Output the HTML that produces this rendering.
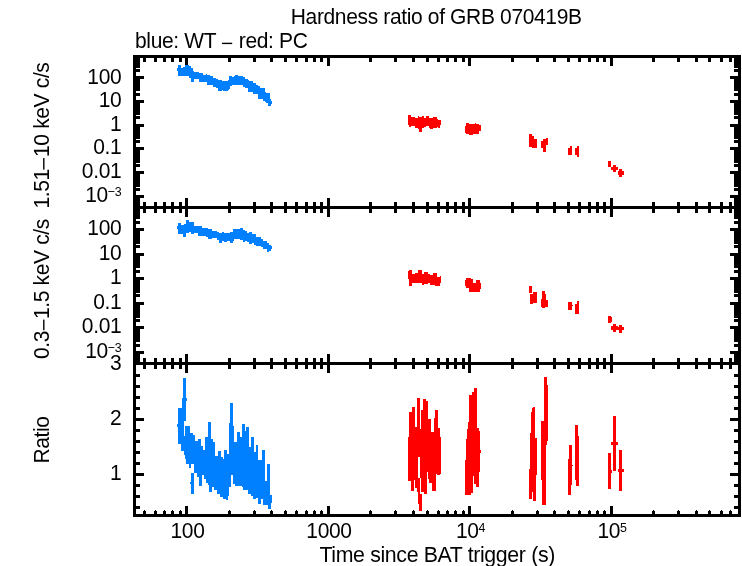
<!DOCTYPE html>
<html><head><meta charset="utf-8"><title>Hardness ratio of GRB 070419B</title>
<style>
html,body{margin:0;padding:0;background:#fff;}
svg{display:block;}
text{font-family:"Liberation Sans",sans-serif;font-size:22px;fill:#000;letter-spacing:-0.37px;}
.t{opacity:0.999;}
</style></head><body>
<svg width="742" height="566" viewBox="0 0 742 566">
<rect x="0" y="0" width="742" height="566" fill="#fff"/>
<g shape-rendering="crispEdges">
<rect x="133" y="55" width="3" height="462" fill="#000"/>
<rect x="738" y="55" width="3" height="462" fill="#000"/>
<rect x="133" y="55" width="608" height="3" fill="#000"/>
<rect x="133" y="514" width="608" height="3" fill="#000"/>
<rect x="133" y="206" width="608" height="3" fill="#000"/>
<rect x="133" y="362" width="608" height="3" fill="#000"/>
<rect x="143" y="58" width="3" height="4" fill="#000"/>
<rect x="143" y="202" width="3" height="11" fill="#000"/>
<rect x="143" y="358" width="3" height="11" fill="#000"/>
<rect x="143" y="511" width="3" height="3" fill="#000"/>
<rect x="144" y="510" width="1" height="1" fill="#000"/>
<rect x="154" y="58" width="3" height="4" fill="#000"/>
<rect x="154" y="202" width="3" height="11" fill="#000"/>
<rect x="154" y="358" width="3" height="11" fill="#000"/>
<rect x="154" y="511" width="3" height="3" fill="#000"/>
<rect x="155" y="510" width="1" height="1" fill="#000"/>
<rect x="163" y="58" width="3" height="4" fill="#000"/>
<rect x="163" y="202" width="3" height="11" fill="#000"/>
<rect x="163" y="358" width="3" height="11" fill="#000"/>
<rect x="163" y="511" width="3" height="3" fill="#000"/>
<rect x="164" y="510" width="1" height="1" fill="#000"/>
<rect x="171" y="58" width="3" height="4" fill="#000"/>
<rect x="171" y="202" width="3" height="11" fill="#000"/>
<rect x="171" y="358" width="3" height="11" fill="#000"/>
<rect x="171" y="511" width="3" height="3" fill="#000"/>
<rect x="172" y="510" width="1" height="1" fill="#000"/>
<rect x="179" y="58" width="3" height="4" fill="#000"/>
<rect x="179" y="202" width="3" height="11" fill="#000"/>
<rect x="179" y="358" width="3" height="11" fill="#000"/>
<rect x="179" y="511" width="3" height="3" fill="#000"/>
<rect x="180" y="510" width="1" height="1" fill="#000"/>
<rect x="185" y="58" width="3" height="8" fill="#000"/>
<rect x="185" y="198" width="3" height="19" fill="#000"/>
<rect x="185" y="354" width="3" height="19" fill="#000"/>
<rect x="185" y="506" width="3" height="8" fill="#000"/>
<rect x="228" y="58" width="3" height="4" fill="#000"/>
<rect x="228" y="202" width="3" height="11" fill="#000"/>
<rect x="228" y="358" width="3" height="11" fill="#000"/>
<rect x="228" y="511" width="3" height="3" fill="#000"/>
<rect x="229" y="510" width="1" height="1" fill="#000"/>
<rect x="253" y="58" width="3" height="4" fill="#000"/>
<rect x="253" y="202" width="3" height="11" fill="#000"/>
<rect x="253" y="358" width="3" height="11" fill="#000"/>
<rect x="253" y="511" width="3" height="3" fill="#000"/>
<rect x="254" y="510" width="1" height="1" fill="#000"/>
<rect x="270" y="58" width="3" height="4" fill="#000"/>
<rect x="270" y="202" width="3" height="11" fill="#000"/>
<rect x="270" y="358" width="3" height="11" fill="#000"/>
<rect x="270" y="511" width="3" height="3" fill="#000"/>
<rect x="271" y="510" width="1" height="1" fill="#000"/>
<rect x="284" y="58" width="3" height="4" fill="#000"/>
<rect x="284" y="202" width="3" height="11" fill="#000"/>
<rect x="284" y="358" width="3" height="11" fill="#000"/>
<rect x="284" y="511" width="3" height="3" fill="#000"/>
<rect x="285" y="510" width="1" height="1" fill="#000"/>
<rect x="295" y="58" width="3" height="4" fill="#000"/>
<rect x="295" y="202" width="3" height="11" fill="#000"/>
<rect x="295" y="358" width="3" height="11" fill="#000"/>
<rect x="295" y="511" width="3" height="3" fill="#000"/>
<rect x="296" y="510" width="1" height="1" fill="#000"/>
<rect x="305" y="58" width="3" height="4" fill="#000"/>
<rect x="305" y="202" width="3" height="11" fill="#000"/>
<rect x="305" y="358" width="3" height="11" fill="#000"/>
<rect x="305" y="511" width="3" height="3" fill="#000"/>
<rect x="306" y="510" width="1" height="1" fill="#000"/>
<rect x="313" y="58" width="3" height="4" fill="#000"/>
<rect x="313" y="202" width="3" height="11" fill="#000"/>
<rect x="313" y="358" width="3" height="11" fill="#000"/>
<rect x="313" y="511" width="3" height="3" fill="#000"/>
<rect x="314" y="510" width="1" height="1" fill="#000"/>
<rect x="320" y="58" width="3" height="4" fill="#000"/>
<rect x="320" y="202" width="3" height="11" fill="#000"/>
<rect x="320" y="358" width="3" height="11" fill="#000"/>
<rect x="320" y="511" width="3" height="3" fill="#000"/>
<rect x="321" y="510" width="1" height="1" fill="#000"/>
<rect x="327" y="58" width="3" height="8" fill="#000"/>
<rect x="327" y="198" width="3" height="19" fill="#000"/>
<rect x="327" y="354" width="3" height="19" fill="#000"/>
<rect x="327" y="506" width="3" height="8" fill="#000"/>
<rect x="369" y="58" width="3" height="4" fill="#000"/>
<rect x="369" y="202" width="3" height="11" fill="#000"/>
<rect x="369" y="358" width="3" height="11" fill="#000"/>
<rect x="369" y="511" width="3" height="3" fill="#000"/>
<rect x="370" y="510" width="1" height="1" fill="#000"/>
<rect x="394" y="58" width="3" height="4" fill="#000"/>
<rect x="394" y="202" width="3" height="11" fill="#000"/>
<rect x="394" y="358" width="3" height="11" fill="#000"/>
<rect x="394" y="511" width="3" height="3" fill="#000"/>
<rect x="395" y="510" width="1" height="1" fill="#000"/>
<rect x="412" y="58" width="3" height="4" fill="#000"/>
<rect x="412" y="202" width="3" height="11" fill="#000"/>
<rect x="412" y="358" width="3" height="11" fill="#000"/>
<rect x="412" y="511" width="3" height="3" fill="#000"/>
<rect x="413" y="510" width="1" height="1" fill="#000"/>
<rect x="426" y="58" width="3" height="4" fill="#000"/>
<rect x="426" y="202" width="3" height="11" fill="#000"/>
<rect x="426" y="358" width="3" height="11" fill="#000"/>
<rect x="426" y="511" width="3" height="3" fill="#000"/>
<rect x="427" y="510" width="1" height="1" fill="#000"/>
<rect x="437" y="58" width="3" height="4" fill="#000"/>
<rect x="437" y="202" width="3" height="11" fill="#000"/>
<rect x="437" y="358" width="3" height="11" fill="#000"/>
<rect x="437" y="511" width="3" height="3" fill="#000"/>
<rect x="438" y="510" width="1" height="1" fill="#000"/>
<rect x="446" y="58" width="3" height="4" fill="#000"/>
<rect x="446" y="202" width="3" height="11" fill="#000"/>
<rect x="446" y="358" width="3" height="11" fill="#000"/>
<rect x="446" y="511" width="3" height="3" fill="#000"/>
<rect x="447" y="510" width="1" height="1" fill="#000"/>
<rect x="454" y="58" width="3" height="4" fill="#000"/>
<rect x="454" y="202" width="3" height="11" fill="#000"/>
<rect x="454" y="358" width="3" height="11" fill="#000"/>
<rect x="454" y="511" width="3" height="3" fill="#000"/>
<rect x="455" y="510" width="1" height="1" fill="#000"/>
<rect x="462" y="58" width="3" height="4" fill="#000"/>
<rect x="462" y="202" width="3" height="11" fill="#000"/>
<rect x="462" y="358" width="3" height="11" fill="#000"/>
<rect x="462" y="511" width="3" height="3" fill="#000"/>
<rect x="463" y="510" width="1" height="1" fill="#000"/>
<rect x="468" y="58" width="3" height="8" fill="#000"/>
<rect x="468" y="198" width="3" height="19" fill="#000"/>
<rect x="468" y="354" width="3" height="19" fill="#000"/>
<rect x="468" y="506" width="3" height="8" fill="#000"/>
<rect x="511" y="58" width="3" height="4" fill="#000"/>
<rect x="511" y="202" width="3" height="11" fill="#000"/>
<rect x="511" y="358" width="3" height="11" fill="#000"/>
<rect x="511" y="511" width="3" height="3" fill="#000"/>
<rect x="512" y="510" width="1" height="1" fill="#000"/>
<rect x="536" y="58" width="3" height="4" fill="#000"/>
<rect x="536" y="202" width="3" height="11" fill="#000"/>
<rect x="536" y="358" width="3" height="11" fill="#000"/>
<rect x="536" y="511" width="3" height="3" fill="#000"/>
<rect x="537" y="510" width="1" height="1" fill="#000"/>
<rect x="553" y="58" width="3" height="4" fill="#000"/>
<rect x="553" y="202" width="3" height="11" fill="#000"/>
<rect x="553" y="358" width="3" height="11" fill="#000"/>
<rect x="553" y="511" width="3" height="3" fill="#000"/>
<rect x="554" y="510" width="1" height="1" fill="#000"/>
<rect x="567" y="58" width="3" height="4" fill="#000"/>
<rect x="567" y="202" width="3" height="11" fill="#000"/>
<rect x="567" y="358" width="3" height="11" fill="#000"/>
<rect x="567" y="511" width="3" height="3" fill="#000"/>
<rect x="568" y="510" width="1" height="1" fill="#000"/>
<rect x="578" y="58" width="3" height="4" fill="#000"/>
<rect x="578" y="202" width="3" height="11" fill="#000"/>
<rect x="578" y="358" width="3" height="11" fill="#000"/>
<rect x="578" y="511" width="3" height="3" fill="#000"/>
<rect x="579" y="510" width="1" height="1" fill="#000"/>
<rect x="588" y="58" width="3" height="4" fill="#000"/>
<rect x="588" y="202" width="3" height="11" fill="#000"/>
<rect x="588" y="358" width="3" height="11" fill="#000"/>
<rect x="588" y="511" width="3" height="3" fill="#000"/>
<rect x="589" y="510" width="1" height="1" fill="#000"/>
<rect x="596" y="58" width="3" height="4" fill="#000"/>
<rect x="596" y="202" width="3" height="11" fill="#000"/>
<rect x="596" y="358" width="3" height="11" fill="#000"/>
<rect x="596" y="511" width="3" height="3" fill="#000"/>
<rect x="597" y="510" width="1" height="1" fill="#000"/>
<rect x="603" y="58" width="3" height="4" fill="#000"/>
<rect x="603" y="202" width="3" height="11" fill="#000"/>
<rect x="603" y="358" width="3" height="11" fill="#000"/>
<rect x="603" y="511" width="3" height="3" fill="#000"/>
<rect x="604" y="510" width="1" height="1" fill="#000"/>
<rect x="610" y="58" width="3" height="8" fill="#000"/>
<rect x="610" y="198" width="3" height="19" fill="#000"/>
<rect x="610" y="354" width="3" height="19" fill="#000"/>
<rect x="610" y="506" width="3" height="8" fill="#000"/>
<rect x="652" y="58" width="3" height="4" fill="#000"/>
<rect x="652" y="202" width="3" height="11" fill="#000"/>
<rect x="652" y="358" width="3" height="11" fill="#000"/>
<rect x="652" y="511" width="3" height="3" fill="#000"/>
<rect x="653" y="510" width="1" height="1" fill="#000"/>
<rect x="677" y="58" width="3" height="4" fill="#000"/>
<rect x="677" y="202" width="3" height="11" fill="#000"/>
<rect x="677" y="358" width="3" height="11" fill="#000"/>
<rect x="677" y="511" width="3" height="3" fill="#000"/>
<rect x="678" y="510" width="1" height="1" fill="#000"/>
<rect x="695" y="58" width="3" height="4" fill="#000"/>
<rect x="695" y="202" width="3" height="11" fill="#000"/>
<rect x="695" y="358" width="3" height="11" fill="#000"/>
<rect x="695" y="511" width="3" height="3" fill="#000"/>
<rect x="696" y="510" width="1" height="1" fill="#000"/>
<rect x="708" y="58" width="3" height="4" fill="#000"/>
<rect x="708" y="202" width="3" height="11" fill="#000"/>
<rect x="708" y="358" width="3" height="11" fill="#000"/>
<rect x="708" y="511" width="3" height="3" fill="#000"/>
<rect x="709" y="510" width="1" height="1" fill="#000"/>
<rect x="720" y="58" width="3" height="4" fill="#000"/>
<rect x="720" y="202" width="3" height="11" fill="#000"/>
<rect x="720" y="358" width="3" height="11" fill="#000"/>
<rect x="720" y="511" width="3" height="3" fill="#000"/>
<rect x="721" y="510" width="1" height="1" fill="#000"/>
<rect x="729" y="58" width="3" height="4" fill="#000"/>
<rect x="729" y="202" width="3" height="11" fill="#000"/>
<rect x="729" y="358" width="3" height="11" fill="#000"/>
<rect x="729" y="511" width="3" height="3" fill="#000"/>
<rect x="730" y="510" width="1" height="1" fill="#000"/>
<rect x="136" y="204" width="4" height="2" fill="#000"/>
<rect x="734" y="204" width="4" height="2" fill="#000"/>
<rect x="136" y="202" width="4" height="3" fill="#000"/>
<rect x="734" y="202" width="4" height="3" fill="#000"/>
<rect x="136" y="200" width="4" height="3" fill="#000"/>
<rect x="734" y="200" width="4" height="3" fill="#000"/>
<rect x="136" y="199" width="4" height="3" fill="#000"/>
<rect x="734" y="199" width="4" height="3" fill="#000"/>
<rect x="136" y="197" width="4" height="3" fill="#000"/>
<rect x="734" y="197" width="4" height="3" fill="#000"/>
<rect x="136" y="196" width="4" height="3" fill="#000"/>
<rect x="734" y="196" width="4" height="3" fill="#000"/>
<rect x="136" y="195" width="8" height="3" fill="#000"/>
<rect x="730" y="195" width="8" height="3" fill="#000"/>
<rect x="136" y="188" width="4" height="3" fill="#000"/>
<rect x="734" y="188" width="4" height="3" fill="#000"/>
<rect x="136" y="184" width="4" height="3" fill="#000"/>
<rect x="734" y="184" width="4" height="3" fill="#000"/>
<rect x="136" y="181" width="4" height="3" fill="#000"/>
<rect x="734" y="181" width="4" height="3" fill="#000"/>
<rect x="136" y="178" width="4" height="3" fill="#000"/>
<rect x="734" y="178" width="4" height="3" fill="#000"/>
<rect x="136" y="176" width="4" height="3" fill="#000"/>
<rect x="734" y="176" width="4" height="3" fill="#000"/>
<rect x="136" y="175" width="4" height="3" fill="#000"/>
<rect x="734" y="175" width="4" height="3" fill="#000"/>
<rect x="136" y="174" width="4" height="3" fill="#000"/>
<rect x="734" y="174" width="4" height="3" fill="#000"/>
<rect x="136" y="172" width="4" height="3" fill="#000"/>
<rect x="734" y="172" width="4" height="3" fill="#000"/>
<rect x="136" y="171" width="8" height="3" fill="#000"/>
<rect x="730" y="171" width="8" height="3" fill="#000"/>
<rect x="136" y="164" width="4" height="3" fill="#000"/>
<rect x="734" y="164" width="4" height="3" fill="#000"/>
<rect x="136" y="160" width="4" height="3" fill="#000"/>
<rect x="734" y="160" width="4" height="3" fill="#000"/>
<rect x="136" y="157" width="4" height="3" fill="#000"/>
<rect x="734" y="157" width="4" height="3" fill="#000"/>
<rect x="136" y="155" width="4" height="3" fill="#000"/>
<rect x="734" y="155" width="4" height="3" fill="#000"/>
<rect x="136" y="153" width="4" height="3" fill="#000"/>
<rect x="734" y="153" width="4" height="3" fill="#000"/>
<rect x="136" y="151" width="4" height="3" fill="#000"/>
<rect x="734" y="151" width="4" height="3" fill="#000"/>
<rect x="136" y="150" width="4" height="3" fill="#000"/>
<rect x="734" y="150" width="4" height="3" fill="#000"/>
<rect x="136" y="148" width="4" height="3" fill="#000"/>
<rect x="734" y="148" width="4" height="3" fill="#000"/>
<rect x="136" y="147" width="8" height="3" fill="#000"/>
<rect x="730" y="147" width="8" height="3" fill="#000"/>
<rect x="136" y="140" width="4" height="3" fill="#000"/>
<rect x="734" y="140" width="4" height="3" fill="#000"/>
<rect x="136" y="136" width="4" height="3" fill="#000"/>
<rect x="734" y="136" width="4" height="3" fill="#000"/>
<rect x="136" y="133" width="4" height="3" fill="#000"/>
<rect x="734" y="133" width="4" height="3" fill="#000"/>
<rect x="136" y="131" width="4" height="3" fill="#000"/>
<rect x="734" y="131" width="4" height="3" fill="#000"/>
<rect x="136" y="129" width="4" height="3" fill="#000"/>
<rect x="734" y="129" width="4" height="3" fill="#000"/>
<rect x="136" y="127" width="4" height="3" fill="#000"/>
<rect x="734" y="127" width="4" height="3" fill="#000"/>
<rect x="136" y="126" width="4" height="3" fill="#000"/>
<rect x="734" y="126" width="4" height="3" fill="#000"/>
<rect x="136" y="125" width="4" height="3" fill="#000"/>
<rect x="734" y="125" width="4" height="3" fill="#000"/>
<rect x="136" y="124" width="8" height="3" fill="#000"/>
<rect x="730" y="124" width="8" height="3" fill="#000"/>
<rect x="136" y="116" width="4" height="3" fill="#000"/>
<rect x="734" y="116" width="4" height="3" fill="#000"/>
<rect x="136" y="112" width="4" height="3" fill="#000"/>
<rect x="734" y="112" width="4" height="3" fill="#000"/>
<rect x="136" y="109" width="4" height="3" fill="#000"/>
<rect x="734" y="109" width="4" height="3" fill="#000"/>
<rect x="136" y="107" width="4" height="3" fill="#000"/>
<rect x="734" y="107" width="4" height="3" fill="#000"/>
<rect x="136" y="105" width="4" height="3" fill="#000"/>
<rect x="734" y="105" width="4" height="3" fill="#000"/>
<rect x="136" y="103" width="4" height="3" fill="#000"/>
<rect x="734" y="103" width="4" height="3" fill="#000"/>
<rect x="136" y="102" width="4" height="3" fill="#000"/>
<rect x="734" y="102" width="4" height="3" fill="#000"/>
<rect x="136" y="101" width="4" height="3" fill="#000"/>
<rect x="734" y="101" width="4" height="3" fill="#000"/>
<rect x="136" y="100" width="8" height="3" fill="#000"/>
<rect x="730" y="100" width="8" height="3" fill="#000"/>
<rect x="136" y="93" width="4" height="3" fill="#000"/>
<rect x="734" y="93" width="4" height="3" fill="#000"/>
<rect x="136" y="88" width="4" height="3" fill="#000"/>
<rect x="734" y="88" width="4" height="3" fill="#000"/>
<rect x="136" y="85" width="4" height="3" fill="#000"/>
<rect x="734" y="85" width="4" height="3" fill="#000"/>
<rect x="136" y="83" width="4" height="3" fill="#000"/>
<rect x="734" y="83" width="4" height="3" fill="#000"/>
<rect x="136" y="81" width="4" height="3" fill="#000"/>
<rect x="734" y="81" width="4" height="3" fill="#000"/>
<rect x="136" y="80" width="4" height="3" fill="#000"/>
<rect x="734" y="80" width="4" height="3" fill="#000"/>
<rect x="136" y="78" width="4" height="3" fill="#000"/>
<rect x="734" y="78" width="4" height="3" fill="#000"/>
<rect x="136" y="77" width="4" height="3" fill="#000"/>
<rect x="734" y="77" width="4" height="3" fill="#000"/>
<rect x="136" y="76" width="8" height="3" fill="#000"/>
<rect x="730" y="76" width="8" height="3" fill="#000"/>
<rect x="136" y="69" width="4" height="3" fill="#000"/>
<rect x="734" y="69" width="4" height="3" fill="#000"/>
<rect x="136" y="65" width="4" height="3" fill="#000"/>
<rect x="734" y="65" width="4" height="3" fill="#000"/>
<rect x="136" y="62" width="4" height="3" fill="#000"/>
<rect x="734" y="62" width="4" height="3" fill="#000"/>
<rect x="136" y="59" width="4" height="3" fill="#000"/>
<rect x="734" y="59" width="4" height="3" fill="#000"/>
<rect x="136" y="58" width="4" height="2" fill="#000"/>
<rect x="734" y="58" width="4" height="2" fill="#000"/>
<rect x="136" y="58" width="4" height="1" fill="#000"/>
<rect x="734" y="58" width="4" height="1" fill="#000"/>
<rect x="136" y="361" width="4" height="1" fill="#000"/>
<rect x="734" y="361" width="4" height="1" fill="#000"/>
<rect x="136" y="358" width="4" height="3" fill="#000"/>
<rect x="734" y="358" width="4" height="3" fill="#000"/>
<rect x="136" y="356" width="4" height="3" fill="#000"/>
<rect x="734" y="356" width="4" height="3" fill="#000"/>
<rect x="136" y="355" width="4" height="3" fill="#000"/>
<rect x="734" y="355" width="4" height="3" fill="#000"/>
<rect x="136" y="353" width="4" height="3" fill="#000"/>
<rect x="734" y="353" width="4" height="3" fill="#000"/>
<rect x="136" y="352" width="4" height="3" fill="#000"/>
<rect x="734" y="352" width="4" height="3" fill="#000"/>
<rect x="136" y="351" width="8" height="3" fill="#000"/>
<rect x="730" y="351" width="8" height="3" fill="#000"/>
<rect x="136" y="344" width="4" height="3" fill="#000"/>
<rect x="734" y="344" width="4" height="3" fill="#000"/>
<rect x="136" y="339" width="4" height="3" fill="#000"/>
<rect x="734" y="339" width="4" height="3" fill="#000"/>
<rect x="136" y="336" width="4" height="3" fill="#000"/>
<rect x="734" y="336" width="4" height="3" fill="#000"/>
<rect x="136" y="334" width="4" height="3" fill="#000"/>
<rect x="734" y="334" width="4" height="3" fill="#000"/>
<rect x="136" y="332" width="4" height="3" fill="#000"/>
<rect x="734" y="332" width="4" height="3" fill="#000"/>
<rect x="136" y="330" width="4" height="3" fill="#000"/>
<rect x="734" y="330" width="4" height="3" fill="#000"/>
<rect x="136" y="329" width="4" height="3" fill="#000"/>
<rect x="734" y="329" width="4" height="3" fill="#000"/>
<rect x="136" y="328" width="4" height="3" fill="#000"/>
<rect x="734" y="328" width="4" height="3" fill="#000"/>
<rect x="136" y="326" width="8" height="3" fill="#000"/>
<rect x="730" y="326" width="8" height="3" fill="#000"/>
<rect x="136" y="319" width="4" height="3" fill="#000"/>
<rect x="734" y="319" width="4" height="3" fill="#000"/>
<rect x="136" y="315" width="4" height="3" fill="#000"/>
<rect x="734" y="315" width="4" height="3" fill="#000"/>
<rect x="136" y="312" width="4" height="3" fill="#000"/>
<rect x="734" y="312" width="4" height="3" fill="#000"/>
<rect x="136" y="309" width="4" height="3" fill="#000"/>
<rect x="734" y="309" width="4" height="3" fill="#000"/>
<rect x="136" y="307" width="4" height="3" fill="#000"/>
<rect x="734" y="307" width="4" height="3" fill="#000"/>
<rect x="136" y="306" width="4" height="3" fill="#000"/>
<rect x="734" y="306" width="4" height="3" fill="#000"/>
<rect x="136" y="304" width="4" height="3" fill="#000"/>
<rect x="734" y="304" width="4" height="3" fill="#000"/>
<rect x="136" y="303" width="4" height="3" fill="#000"/>
<rect x="734" y="303" width="4" height="3" fill="#000"/>
<rect x="136" y="302" width="8" height="3" fill="#000"/>
<rect x="730" y="302" width="8" height="3" fill="#000"/>
<rect x="136" y="294" width="4" height="3" fill="#000"/>
<rect x="734" y="294" width="4" height="3" fill="#000"/>
<rect x="136" y="290" width="4" height="3" fill="#000"/>
<rect x="734" y="290" width="4" height="3" fill="#000"/>
<rect x="136" y="287" width="4" height="3" fill="#000"/>
<rect x="734" y="287" width="4" height="3" fill="#000"/>
<rect x="136" y="285" width="4" height="3" fill="#000"/>
<rect x="734" y="285" width="4" height="3" fill="#000"/>
<rect x="136" y="283" width="4" height="3" fill="#000"/>
<rect x="734" y="283" width="4" height="3" fill="#000"/>
<rect x="136" y="281" width="4" height="3" fill="#000"/>
<rect x="734" y="281" width="4" height="3" fill="#000"/>
<rect x="136" y="280" width="4" height="3" fill="#000"/>
<rect x="734" y="280" width="4" height="3" fill="#000"/>
<rect x="136" y="278" width="4" height="3" fill="#000"/>
<rect x="734" y="278" width="4" height="3" fill="#000"/>
<rect x="136" y="277" width="8" height="3" fill="#000"/>
<rect x="730" y="277" width="8" height="3" fill="#000"/>
<rect x="136" y="270" width="4" height="3" fill="#000"/>
<rect x="734" y="270" width="4" height="3" fill="#000"/>
<rect x="136" y="265" width="4" height="3" fill="#000"/>
<rect x="734" y="265" width="4" height="3" fill="#000"/>
<rect x="136" y="262" width="4" height="3" fill="#000"/>
<rect x="734" y="262" width="4" height="3" fill="#000"/>
<rect x="136" y="260" width="4" height="3" fill="#000"/>
<rect x="734" y="260" width="4" height="3" fill="#000"/>
<rect x="136" y="258" width="4" height="3" fill="#000"/>
<rect x="734" y="258" width="4" height="3" fill="#000"/>
<rect x="136" y="256" width="4" height="3" fill="#000"/>
<rect x="734" y="256" width="4" height="3" fill="#000"/>
<rect x="136" y="255" width="4" height="3" fill="#000"/>
<rect x="734" y="255" width="4" height="3" fill="#000"/>
<rect x="136" y="254" width="4" height="3" fill="#000"/>
<rect x="734" y="254" width="4" height="3" fill="#000"/>
<rect x="136" y="253" width="8" height="3" fill="#000"/>
<rect x="730" y="253" width="8" height="3" fill="#000"/>
<rect x="136" y="245" width="4" height="3" fill="#000"/>
<rect x="734" y="245" width="4" height="3" fill="#000"/>
<rect x="136" y="241" width="4" height="3" fill="#000"/>
<rect x="734" y="241" width="4" height="3" fill="#000"/>
<rect x="136" y="238" width="4" height="3" fill="#000"/>
<rect x="734" y="238" width="4" height="3" fill="#000"/>
<rect x="136" y="235" width="4" height="3" fill="#000"/>
<rect x="734" y="235" width="4" height="3" fill="#000"/>
<rect x="136" y="233" width="4" height="3" fill="#000"/>
<rect x="734" y="233" width="4" height="3" fill="#000"/>
<rect x="136" y="232" width="4" height="3" fill="#000"/>
<rect x="734" y="232" width="4" height="3" fill="#000"/>
<rect x="136" y="230" width="4" height="3" fill="#000"/>
<rect x="734" y="230" width="4" height="3" fill="#000"/>
<rect x="136" y="229" width="4" height="3" fill="#000"/>
<rect x="734" y="229" width="4" height="3" fill="#000"/>
<rect x="136" y="228" width="8" height="3" fill="#000"/>
<rect x="730" y="228" width="8" height="3" fill="#000"/>
<rect x="136" y="221" width="4" height="3" fill="#000"/>
<rect x="734" y="221" width="4" height="3" fill="#000"/>
<rect x="136" y="216" width="4" height="3" fill="#000"/>
<rect x="734" y="216" width="4" height="3" fill="#000"/>
<rect x="136" y="213" width="4" height="3" fill="#000"/>
<rect x="734" y="213" width="4" height="3" fill="#000"/>
<rect x="136" y="211" width="4" height="3" fill="#000"/>
<rect x="734" y="211" width="4" height="3" fill="#000"/>
<rect x="136" y="209" width="4" height="3" fill="#000"/>
<rect x="734" y="209" width="4" height="3" fill="#000"/>
<rect x="136" y="209" width="4" height="1" fill="#000"/>
<rect x="734" y="209" width="4" height="1" fill="#000"/>
<rect x="136" y="506" width="4" height="3" fill="#000"/>
<rect x="734" y="506" width="4" height="3" fill="#000"/>
<rect x="136" y="495" width="4" height="3" fill="#000"/>
<rect x="734" y="495" width="4" height="3" fill="#000"/>
<rect x="136" y="484" width="4" height="3" fill="#000"/>
<rect x="734" y="484" width="4" height="3" fill="#000"/>
<rect x="136" y="473" width="8" height="3" fill="#000"/>
<rect x="730" y="473" width="8" height="3" fill="#000"/>
<rect x="136" y="462" width="4" height="3" fill="#000"/>
<rect x="734" y="462" width="4" height="3" fill="#000"/>
<rect x="136" y="451" width="4" height="3" fill="#000"/>
<rect x="734" y="451" width="4" height="3" fill="#000"/>
<rect x="136" y="440" width="4" height="3" fill="#000"/>
<rect x="734" y="440" width="4" height="3" fill="#000"/>
<rect x="136" y="429" width="4" height="3" fill="#000"/>
<rect x="734" y="429" width="4" height="3" fill="#000"/>
<rect x="136" y="418" width="8" height="3" fill="#000"/>
<rect x="730" y="418" width="8" height="3" fill="#000"/>
<rect x="136" y="407" width="4" height="3" fill="#000"/>
<rect x="734" y="407" width="4" height="3" fill="#000"/>
<rect x="136" y="396" width="4" height="3" fill="#000"/>
<rect x="734" y="396" width="4" height="3" fill="#000"/>
<rect x="136" y="385" width="4" height="3" fill="#000"/>
<rect x="734" y="385" width="4" height="3" fill="#000"/>
<rect x="136" y="374" width="4" height="3" fill="#000"/>
<rect x="734" y="374" width="4" height="3" fill="#000"/>
<rect x="177" y="68" width="1" height="3" fill="#0080ff"/>
<rect x="178" y="65" width="3" height="11" fill="#0080ff"/>
<rect x="181" y="68" width="2" height="8" fill="#0080ff"/>
<rect x="183" y="67" width="2" height="9" fill="#0080ff"/>
<rect x="185" y="65" width="4" height="11" fill="#0080ff"/>
<rect x="189" y="66" width="2" height="12" fill="#0080ff"/>
<rect x="191" y="68" width="2" height="14" fill="#0080ff"/>
<rect x="193" y="71" width="1" height="11" fill="#0080ff"/>
<rect x="194" y="72" width="5" height="7" fill="#0080ff"/>
<rect x="199" y="73" width="4" height="9" fill="#0080ff"/>
<rect x="203" y="75" width="3" height="7" fill="#0080ff"/>
<rect x="206" y="74" width="1" height="8" fill="#0080ff"/>
<rect x="207" y="75" width="3" height="10" fill="#0080ff"/>
<rect x="210" y="76" width="3" height="9" fill="#0080ff"/>
<rect x="213" y="78" width="3" height="9" fill="#0080ff"/>
<rect x="216" y="79" width="2" height="9" fill="#0080ff"/>
<rect x="218" y="80" width="4" height="11" fill="#0080ff"/>
<rect x="222" y="81" width="1" height="9" fill="#0080ff"/>
<rect x="223" y="81" width="5" height="10" fill="#0080ff"/>
<rect x="228" y="80" width="1" height="10" fill="#0080ff"/>
<rect x="229" y="76" width="1" height="13" fill="#0080ff"/>
<rect x="230" y="76" width="2" height="10" fill="#0080ff"/>
<rect x="232" y="77" width="2" height="8" fill="#0080ff"/>
<rect x="234" y="76" width="1" height="9" fill="#0080ff"/>
<rect x="235" y="75" width="3" height="10" fill="#0080ff"/>
<rect x="238" y="76" width="5" height="9" fill="#0080ff"/>
<rect x="243" y="77" width="2" height="10" fill="#0080ff"/>
<rect x="245" y="79" width="3" height="9" fill="#0080ff"/>
<rect x="248" y="80" width="1" height="12" fill="#0080ff"/>
<rect x="249" y="81" width="4" height="11" fill="#0080ff"/>
<rect x="253" y="83" width="3" height="11" fill="#0080ff"/>
<rect x="256" y="85" width="2" height="9" fill="#0080ff"/>
<rect x="258" y="86" width="2" height="13" fill="#0080ff"/>
<rect x="260" y="88" width="3" height="11" fill="#0080ff"/>
<rect x="263" y="88" width="2" height="13" fill="#0080ff"/>
<rect x="265" y="92" width="1" height="10" fill="#0080ff"/>
<rect x="266" y="93" width="2" height="10" fill="#0080ff"/>
<rect x="268" y="93" width="2" height="13" fill="#0080ff"/>
<rect x="270" y="99" width="1" height="7" fill="#0080ff"/>
<rect x="271" y="101" width="1" height="3" fill="#0080ff"/>
<rect x="408" y="115" width="1" height="10" fill="#ff0000"/>
<rect x="409" y="115" width="2" height="12" fill="#ff0000"/>
<rect x="411" y="117" width="4" height="9" fill="#ff0000"/>
<rect x="415" y="118" width="3" height="10" fill="#ff0000"/>
<rect x="418" y="116" width="1" height="13" fill="#ff0000"/>
<rect x="419" y="117" width="3" height="15" fill="#ff0000"/>
<rect x="422" y="116" width="2" height="12" fill="#ff0000"/>
<rect x="424" y="118" width="2" height="9" fill="#ff0000"/>
<rect x="426" y="116" width="3" height="10" fill="#ff0000"/>
<rect x="429" y="118" width="1" height="10" fill="#ff0000"/>
<rect x="430" y="118" width="3" height="11" fill="#ff0000"/>
<rect x="433" y="117" width="4" height="11" fill="#ff0000"/>
<rect x="437" y="119" width="1" height="8" fill="#ff0000"/>
<rect x="438" y="120" width="2" height="8" fill="#ff0000"/>
<rect x="440" y="120" width="1" height="5" fill="#ff0000"/>
<rect x="465" y="126" width="1" height="7" fill="#ff0000"/>
<rect x="466" y="123" width="3" height="11" fill="#ff0000"/>
<rect x="469" y="124" width="4" height="11" fill="#ff0000"/>
<rect x="473" y="124" width="2" height="10" fill="#ff0000"/>
<rect x="475" y="123" width="1" height="11" fill="#ff0000"/>
<rect x="476" y="124" width="3" height="10" fill="#ff0000"/>
<rect x="479" y="125" width="2" height="6" fill="#ff0000"/>
<rect x="529" y="134" width="3" height="13" fill="#ff0000"/>
<rect x="532" y="136" width="2" height="12" fill="#ff0000"/>
<rect x="534" y="139" width="3" height="9" fill="#ff0000"/>
<rect x="541" y="141" width="2" height="7" fill="#ff0000"/>
<rect x="543" y="139" width="3" height="13" fill="#ff0000"/>
<rect x="546" y="138" width="2" height="7" fill="#ff0000"/>
<rect x="568" y="148" width="2" height="7" fill="#ff0000"/>
<rect x="570" y="146" width="2" height="9" fill="#ff0000"/>
<rect x="575" y="148" width="2" height="7" fill="#ff0000"/>
<rect x="577" y="146" width="2" height="11" fill="#ff0000"/>
<rect x="608" y="161" width="3" height="6" fill="#ff0000"/>
<rect x="611" y="167" width="7" height="3" fill="#ff0000"/>
<rect x="613" y="165" width="3" height="7" fill="#ff0000"/>
<rect x="618" y="171" width="6" height="4" fill="#ff0000"/>
<rect x="619" y="169" width="3" height="8" fill="#ff0000"/>
<rect x="177" y="226" width="1" height="3" fill="#0080ff"/>
<rect x="178" y="223" width="3" height="11" fill="#0080ff"/>
<rect x="181" y="225" width="2" height="9" fill="#0080ff"/>
<rect x="183" y="225" width="1" height="12" fill="#0080ff"/>
<rect x="184" y="224" width="2" height="13" fill="#0080ff"/>
<rect x="186" y="220" width="3" height="13" fill="#0080ff"/>
<rect x="189" y="222" width="2" height="10" fill="#0080ff"/>
<rect x="191" y="222" width="3" height="12" fill="#0080ff"/>
<rect x="194" y="226" width="4" height="7" fill="#0080ff"/>
<rect x="198" y="226" width="4" height="10" fill="#0080ff"/>
<rect x="202" y="228" width="4" height="8" fill="#0080ff"/>
<rect x="206" y="228" width="2" height="9" fill="#0080ff"/>
<rect x="208" y="229" width="4" height="10" fill="#0080ff"/>
<rect x="212" y="231" width="5" height="7" fill="#0080ff"/>
<rect x="217" y="232" width="2" height="8" fill="#0080ff"/>
<rect x="219" y="233" width="3" height="10" fill="#0080ff"/>
<rect x="222" y="232" width="2" height="9" fill="#0080ff"/>
<rect x="224" y="233" width="3" height="9" fill="#0080ff"/>
<rect x="227" y="233" width="3" height="8" fill="#0080ff"/>
<rect x="230" y="232" width="3" height="11" fill="#0080ff"/>
<rect x="233" y="229" width="1" height="12" fill="#0080ff"/>
<rect x="234" y="229" width="6" height="10" fill="#0080ff"/>
<rect x="240" y="228" width="3" height="12" fill="#0080ff"/>
<rect x="243" y="230" width="2" height="12" fill="#0080ff"/>
<rect x="245" y="231" width="2" height="10" fill="#0080ff"/>
<rect x="247" y="233" width="2" height="9" fill="#0080ff"/>
<rect x="249" y="232" width="3" height="12" fill="#0080ff"/>
<rect x="252" y="234" width="2" height="9" fill="#0080ff"/>
<rect x="254" y="234" width="2" height="11" fill="#0080ff"/>
<rect x="256" y="237" width="2" height="9" fill="#0080ff"/>
<rect x="258" y="237" width="3" height="9" fill="#0080ff"/>
<rect x="261" y="239" width="2" height="8" fill="#0080ff"/>
<rect x="263" y="241" width="4" height="8" fill="#0080ff"/>
<rect x="267" y="243" width="2" height="9" fill="#0080ff"/>
<rect x="269" y="245" width="2" height="6" fill="#0080ff"/>
<rect x="271" y="246" width="1" height="3" fill="#0080ff"/>
<rect x="408" y="271" width="1" height="8" fill="#ff0000"/>
<rect x="409" y="270" width="3" height="16" fill="#ff0000"/>
<rect x="412" y="274" width="3" height="9" fill="#ff0000"/>
<rect x="415" y="273" width="3" height="10" fill="#ff0000"/>
<rect x="418" y="270" width="4" height="13" fill="#ff0000"/>
<rect x="422" y="274" width="2" height="11" fill="#ff0000"/>
<rect x="424" y="272" width="4" height="12" fill="#ff0000"/>
<rect x="428" y="274" width="2" height="9" fill="#ff0000"/>
<rect x="430" y="275" width="3" height="10" fill="#ff0000"/>
<rect x="433" y="273" width="2" height="12" fill="#ff0000"/>
<rect x="435" y="273" width="2" height="13" fill="#ff0000"/>
<rect x="437" y="277" width="3" height="9" fill="#ff0000"/>
<rect x="440" y="276" width="1" height="7" fill="#ff0000"/>
<rect x="465" y="280" width="1" height="6" fill="#ff0000"/>
<rect x="466" y="278" width="3" height="10" fill="#ff0000"/>
<rect x="469" y="278" width="2" height="14" fill="#ff0000"/>
<rect x="471" y="279" width="2" height="13" fill="#ff0000"/>
<rect x="473" y="283" width="3" height="9" fill="#ff0000"/>
<rect x="476" y="280" width="4" height="12" fill="#ff0000"/>
<rect x="480" y="283" width="1" height="6" fill="#ff0000"/>
<rect x="529" y="286" width="3" height="7" fill="#ff0000"/>
<rect x="530" y="294" width="3" height="10" fill="#ff0000"/>
<rect x="533" y="292" width="4" height="11" fill="#ff0000"/>
<rect x="541" y="299" width="1" height="8" fill="#ff0000"/>
<rect x="542" y="291" width="3" height="17" fill="#ff0000"/>
<rect x="545" y="294" width="1" height="13" fill="#ff0000"/>
<rect x="546" y="300" width="2" height="7" fill="#ff0000"/>
<rect x="568" y="302" width="4" height="8" fill="#ff0000"/>
<rect x="572" y="305" width="1" height="1" fill="#ff0000"/>
<rect x="575" y="304" width="2" height="10" fill="#ff0000"/>
<rect x="577" y="301" width="2" height="13" fill="#ff0000"/>
<rect x="608" y="316" width="3" height="7" fill="#ff0000"/>
<rect x="611" y="317" width="1" height="5" fill="#ff0000"/>
<rect x="611" y="326" width="7" height="4" fill="#ff0000"/>
<rect x="613" y="324" width="3" height="8" fill="#ff0000"/>
<rect x="618" y="327" width="6" height="3" fill="#ff0000"/>
<rect x="619" y="325" width="3" height="8" fill="#ff0000"/>
<rect x="177" y="424" width="1" height="3" fill="#0080ff"/>
<rect x="178" y="408" width="3" height="36" fill="#0080ff"/>
<rect x="181" y="408" width="1" height="43" fill="#0080ff"/>
<rect x="182" y="398" width="1" height="53" fill="#0080ff"/>
<rect x="183" y="378" width="1" height="73" fill="#0080ff"/>
<rect x="184" y="378" width="1" height="43" fill="#0080ff"/>
<rect x="184" y="436" width="1" height="19" fill="#0080ff"/>
<rect x="185" y="378" width="1" height="43" fill="#0080ff"/>
<rect x="182" y="398" width="5" height="3" fill="#0080ff"/>
<rect x="185" y="426" width="1" height="33" fill="#0080ff"/>
<rect x="186" y="426" width="3" height="38" fill="#0080ff"/>
<rect x="189" y="426" width="1" height="42" fill="#0080ff"/>
<rect x="190" y="433" width="1" height="35" fill="#0080ff"/>
<rect x="191" y="433" width="2" height="31" fill="#0080ff"/>
<rect x="193" y="435" width="1" height="29" fill="#0080ff"/>
<rect x="190" y="482" width="1" height="2" fill="#0080ff"/>
<rect x="191" y="473" width="3" height="21" fill="#0080ff"/>
<rect x="194" y="435" width="1" height="38" fill="#0080ff"/>
<rect x="195" y="441" width="2" height="32" fill="#0080ff"/>
<rect x="197" y="441" width="1" height="36" fill="#0080ff"/>
<rect x="198" y="439" width="1" height="38" fill="#0080ff"/>
<rect x="199" y="439" width="2" height="47" fill="#0080ff"/>
<rect x="201" y="446" width="1" height="40" fill="#0080ff"/>
<rect x="202" y="446" width="1" height="29" fill="#0080ff"/>
<rect x="203" y="450" width="1" height="25" fill="#0080ff"/>
<rect x="204" y="450" width="1" height="29" fill="#0080ff"/>
<rect x="205" y="437" width="1" height="42" fill="#0080ff"/>
<rect x="206" y="437" width="2" height="46" fill="#0080ff"/>
<rect x="208" y="422" width="1" height="63" fill="#0080ff"/>
<rect x="209" y="422" width="2" height="70" fill="#0080ff"/>
<rect x="211" y="439" width="1" height="53" fill="#0080ff"/>
<rect x="212" y="439" width="1" height="48" fill="#0080ff"/>
<rect x="213" y="442" width="1" height="45" fill="#0080ff"/>
<rect x="214" y="442" width="1" height="48" fill="#0080ff"/>
<rect x="215" y="456" width="2" height="34" fill="#0080ff"/>
<rect x="217" y="456" width="1" height="38" fill="#0080ff"/>
<rect x="218" y="451" width="2" height="43" fill="#0080ff"/>
<rect x="220" y="451" width="1" height="46" fill="#0080ff"/>
<rect x="221" y="457" width="2" height="40" fill="#0080ff"/>
<rect x="223" y="459" width="1" height="40" fill="#0080ff"/>
<rect x="224" y="450" width="2" height="49" fill="#0080ff"/>
<rect x="226" y="450" width="1" height="50" fill="#0080ff"/>
<rect x="227" y="454" width="1" height="46" fill="#0080ff"/>
<rect x="228" y="454" width="1" height="42" fill="#0080ff"/>
<rect x="229" y="423" width="1" height="64" fill="#0080ff"/>
<rect x="230" y="403" width="1" height="84" fill="#0080ff"/>
<rect x="231" y="403" width="2" height="72" fill="#0080ff"/>
<rect x="233" y="426" width="1" height="58" fill="#0080ff"/>
<rect x="234" y="442" width="1" height="42" fill="#0080ff"/>
<rect x="235" y="442" width="2" height="44" fill="#0080ff"/>
<rect x="237" y="432" width="3" height="54" fill="#0080ff"/>
<rect x="240" y="437" width="2" height="49" fill="#0080ff"/>
<rect x="242" y="424" width="1" height="63" fill="#0080ff"/>
<rect x="243" y="424" width="2" height="66" fill="#0080ff"/>
<rect x="245" y="431" width="1" height="59" fill="#0080ff"/>
<rect x="246" y="427" width="2" height="63" fill="#0080ff"/>
<rect x="248" y="427" width="1" height="67" fill="#0080ff"/>
<rect x="249" y="447" width="2" height="47" fill="#0080ff"/>
<rect x="251" y="437" width="2" height="59" fill="#0080ff"/>
<rect x="253" y="437" width="1" height="62" fill="#0080ff"/>
<rect x="254" y="452" width="2" height="47" fill="#0080ff"/>
<rect x="256" y="445" width="2" height="53" fill="#0080ff"/>
<rect x="258" y="460" width="3" height="44" fill="#0080ff"/>
<rect x="261" y="460" width="1" height="39" fill="#0080ff"/>
<rect x="262" y="450" width="1" height="49" fill="#0080ff"/>
<rect x="263" y="450" width="2" height="55" fill="#0080ff"/>
<rect x="265" y="481" width="2" height="24" fill="#0080ff"/>
<rect x="267" y="464" width="1" height="41" fill="#0080ff"/>
<rect x="268" y="464" width="2" height="45" fill="#0080ff"/>
<rect x="270" y="495" width="1" height="14" fill="#0080ff"/>
<rect x="271" y="495" width="1" height="8" fill="#0080ff"/>
<rect x="408" y="437" width="1" height="44" fill="#ff0000"/>
<rect x="409" y="412" width="2" height="69" fill="#ff0000"/>
<rect x="411" y="412" width="1" height="79" fill="#ff0000"/>
<rect x="412" y="407" width="2" height="84" fill="#ff0000"/>
<rect x="414" y="407" width="1" height="73" fill="#ff0000"/>
<rect x="415" y="427" width="2" height="61" fill="#ff0000"/>
<rect x="417" y="398" width="1" height="94" fill="#ff0000"/>
<rect x="418" y="398" width="1" height="59" fill="#ff0000"/>
<rect x="419" y="398" width="1" height="59" fill="#ff0000"/>
<rect x="418" y="478" width="2" height="26" fill="#ff0000"/>
<rect x="419" y="494" width="3" height="17" fill="#ff0000"/>
<rect x="420" y="429" width="1" height="49" fill="#ff0000"/>
<rect x="421" y="410" width="2" height="82" fill="#ff0000"/>
<rect x="423" y="399" width="1" height="93" fill="#ff0000"/>
<rect x="424" y="399" width="2" height="95" fill="#ff0000"/>
<rect x="426" y="401" width="1" height="93" fill="#ff0000"/>
<rect x="427" y="401" width="1" height="71" fill="#ff0000"/>
<rect x="428" y="419" width="1" height="60" fill="#ff0000"/>
<rect x="429" y="419" width="2" height="64" fill="#ff0000"/>
<rect x="431" y="432" width="1" height="51" fill="#ff0000"/>
<rect x="432" y="432" width="2" height="59" fill="#ff0000"/>
<rect x="434" y="418" width="1" height="73" fill="#ff0000"/>
<rect x="435" y="410" width="1" height="81" fill="#ff0000"/>
<rect x="436" y="410" width="1" height="64" fill="#ff0000"/>
<rect x="437" y="410" width="1" height="65" fill="#ff0000"/>
<rect x="438" y="428" width="2" height="47" fill="#ff0000"/>
<rect x="440" y="437" width="1" height="37" fill="#ff0000"/>
<rect x="465" y="460" width="1" height="35" fill="#ff0000"/>
<rect x="466" y="439" width="1" height="56" fill="#ff0000"/>
<rect x="467" y="429" width="1" height="66" fill="#ff0000"/>
<rect x="468" y="422" width="1" height="73" fill="#ff0000"/>
<rect x="469" y="395" width="2" height="100" fill="#ff0000"/>
<rect x="471" y="395" width="1" height="98" fill="#ff0000"/>
<rect x="472" y="392" width="1" height="101" fill="#ff0000"/>
<rect x="473" y="392" width="1" height="84" fill="#ff0000"/>
<rect x="474" y="388" width="2" height="96" fill="#ff0000"/>
<rect x="476" y="388" width="1" height="99" fill="#ff0000"/>
<rect x="477" y="428" width="2" height="59" fill="#ff0000"/>
<rect x="479" y="431" width="1" height="41" fill="#ff0000"/>
<rect x="480" y="450" width="1" height="3" fill="#ff0000"/>
<rect x="529" y="469" width="1" height="30" fill="#ff0000"/>
<rect x="530" y="433" width="1" height="66" fill="#ff0000"/>
<rect x="531" y="412" width="1" height="87" fill="#ff0000"/>
<rect x="532" y="408" width="1" height="84" fill="#ff0000"/>
<rect x="533" y="407" width="2" height="94" fill="#ff0000"/>
<rect x="535" y="438" width="1" height="63" fill="#ff0000"/>
<rect x="536" y="438" width="1" height="37" fill="#ff0000"/>
<rect x="541" y="421" width="1" height="59" fill="#ff0000"/>
<rect x="542" y="421" width="2" height="84" fill="#ff0000"/>
<rect x="544" y="377" width="2" height="128" fill="#ff0000"/>
<rect x="546" y="377" width="1" height="68" fill="#ff0000"/>
<rect x="547" y="385" width="1" height="56" fill="#ff0000"/>
<rect x="568" y="459" width="1" height="36" fill="#ff0000"/>
<rect x="569" y="445" width="2" height="50" fill="#ff0000"/>
<rect x="571" y="445" width="1" height="40" fill="#ff0000"/>
<rect x="572" y="465" width="1" height="1" fill="#ff0000"/>
<rect x="575" y="425" width="1" height="55" fill="#ff0000"/>
<rect x="576" y="425" width="2" height="61" fill="#ff0000"/>
<rect x="578" y="436" width="1" height="50" fill="#ff0000"/>
<rect x="608" y="453" width="3" height="36" fill="#ff0000"/>
<rect x="611" y="470" width="1" height="3" fill="#ff0000"/>
<rect x="613" y="416" width="3" height="55" fill="#ff0000"/>
<rect x="611" y="442" width="7" height="3" fill="#ff0000"/>
<rect x="619" y="450" width="3" height="41" fill="#ff0000"/>
<rect x="618" y="469" width="6" height="3" fill="#ff0000"/>
</g>
<g class="t">
<text transform="translate(436.2,24) scale(0.9550,1)" text-anchor="middle" >Hardness ratio of GRB 070419B</text>
<text transform="translate(135,48) scale(0.9550,1)" text-anchor="start" >blue: WT</text>
<text transform="translate(238.8,48) scale(0.9550,1)" text-anchor="start" >red: PC</text>
<rect x="222" y="42.7" width="10.2" height="1.4" fill="#000"/>
<text transform="translate(121.3,84) scale(0.9550,1)" text-anchor="end" >100</text>
<text transform="translate(121.3,107) scale(0.9550,1)" text-anchor="end" >10</text>
<text transform="translate(121.3,131) scale(0.9550,1)" text-anchor="end" >1</text>
<text transform="translate(121.3,154) scale(0.9550,1)" text-anchor="end" >0.1</text>
<text transform="translate(121.3,178) scale(0.9550,1)" text-anchor="end" >0.01</text>
<text transform="translate(121.3,202) scale(0.9550,1)" text-anchor="end" >10<tspan font-size="13" dy="-6.5">−3</tspan></text>
<text transform="translate(121.3,235) scale(0.9550,1)" text-anchor="end" >100</text>
<text transform="translate(121.3,260) scale(0.9550,1)" text-anchor="end" >10</text>
<text transform="translate(121.3,284) scale(0.9550,1)" text-anchor="end" >1</text>
<text transform="translate(121.3,309) scale(0.9550,1)" text-anchor="end" >0.1</text>
<text transform="translate(121.3,333) scale(0.9550,1)" text-anchor="end" >0.01</text>
<text transform="translate(121.3,358) scale(0.9550,1)" text-anchor="end" >10<tspan font-size="13" dy="-6.5">−3</tspan></text>
<text transform="translate(121.3,370) scale(0.9550,1)" text-anchor="end" >3</text>
<text transform="translate(121.3,425) scale(0.9550,1)" text-anchor="end" >2</text>
<text transform="translate(121.3,480) scale(0.9550,1)" text-anchor="end" >1</text>
<text transform="translate(187.5,538) scale(0.9550,1)" text-anchor="middle" >100</text>
<text transform="translate(329,538) scale(0.9550,1)" text-anchor="middle" >1000</text>
<text transform="translate(470.5,538) scale(0.9550,1)" text-anchor="middle" >10<tspan font-size="13" dy="-6">4</tspan></text>
<text transform="translate(612,538) scale(0.9550,1)" text-anchor="middle" >10<tspan font-size="13" dy="-6">5</tspan></text>
<text transform="translate(437.2,562) scale(0.9693,1)" text-anchor="middle" >Time since BAT trigger (s)</text>
<text transform="translate(49,208.6) rotate(-90) scale(0.955,1)" text-anchor="start">1.51</text>
<rect x="43.099999999999994" y="158" width="1.4" height="11.599999999999994" fill="#000"/>
<text transform="translate(49,157) rotate(-90) scale(0.955,1)" text-anchor="start">10 keV c/s</text>
<text transform="translate(49,359) rotate(-90) scale(0.955,1)" text-anchor="start">0.3</text>
<rect x="43.099999999999994" y="319.6" width="1.4" height="10.599999999999966" fill="#000"/>
<text transform="translate(49,319) rotate(-90) scale(0.955,1)" text-anchor="start">1.5 keV c/s</text>
<text transform="translate(49,440) rotate(-90) scale(0.955,1)" text-anchor="middle">Ratio</text>
</g>
</svg>
</body></html>
